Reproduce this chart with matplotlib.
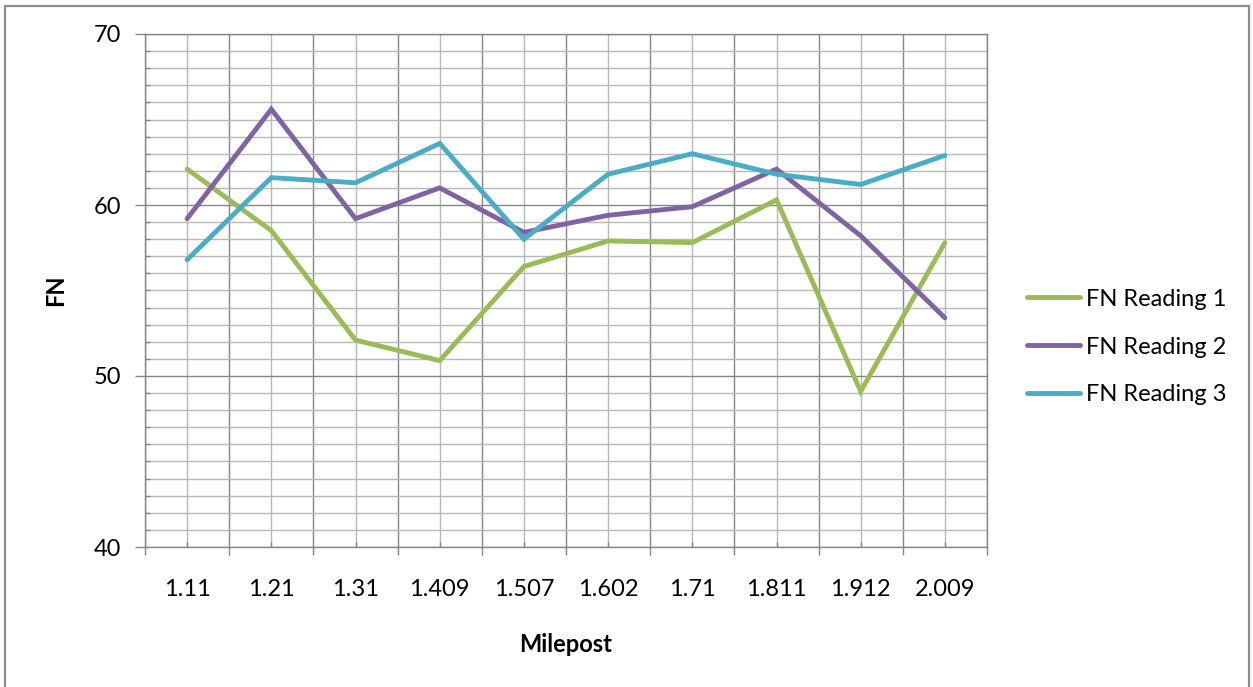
import numpy as np
import matplotlib
matplotlib.use("Agg")
import matplotlib.pyplot as plt
from matplotlib.patches import Rectangle
from matplotlib.ticker import FixedLocator, MultipleLocator

plt.rcParams["font.family"] = ["Lato", "DejaVu Sans"]

mileposts = ["1.11", "1.21", "1.31", "1.409", "1.507", "1.602", "1.71", "1.811", "1.912", "2.009"]
fn_reading_1 = [62.1, 58.5, 52.1, 50.9, 56.4, 57.9, 57.8, 60.3, 49.1, 57.8]
fn_reading_2 = [59.2, 65.6, 59.2, 61.0, 58.4, 59.4, 59.9, 62.1, 58.2, 53.4]
fn_reading_3 = [56.8, 61.6, 61.3, 63.6, 58.0, 61.8, 63.0, 61.8, 61.2, 62.9]

series = [
    ("FN Reading 1", fn_reading_1, "#9bbb59"),
    ("FN Reading 2", fn_reading_2, "#8064a2"),
    ("FN Reading 3", fn_reading_3, "#4bacc6"),
]

W, H = 1253, 687
FS = 17
fig = plt.figure(figsize=(W / 100, H / 100), dpi=100)
ax = fig.add_axes([145 / W, 1 - 547 / H, (987 - 145) / W, (547 - 34) / H])

x = np.arange(len(mileposts))
for name, vals, color in series:
    ax.plot(x, vals, color=color, lw=3.5, label=name, solid_joinstyle="miter",
            solid_capstyle="round", zorder=3)

ax.set_xlim(-0.5, len(mileposts) - 0.5)
ax.set_ylim(40, 70)

# category boundaries carry the dark gridlines, centres carry the labels
ax.xaxis.set_major_locator(FixedLocator(np.arange(-0.5, len(mileposts), 1)))
ax.xaxis.set_minor_locator(FixedLocator(x))
ax.set_xticklabels([], minor=False)
ax.set_xticklabels(mileposts, minor=True)
ax.yaxis.set_major_locator(MultipleLocator(10))
ax.yaxis.set_minor_locator(MultipleLocator(1))

grid_major = "#868686"
grid_minor = "#b8b8b8"
ax.set_axisbelow(True)
ax.grid(which="major", color=grid_major, lw=1.0)
ax.grid(which="minor", color=grid_minor, lw=1.0)

ax.tick_params(axis="x", which="major", direction="out", length=6, width=1.0, color=grid_major)
ax.tick_params(axis="x", which="minor", direction="in", length=3.5, width=1.0, color=grid_major,
               labelsize=FS, pad=23)
ax.tick_params(axis="y", which="major", direction="out", length=7, width=1.0, color=grid_major,
               labelsize=FS, pad=10)
ax.tick_params(axis="y", which="minor", direction="in", length=3.5, width=1.0, color=grid_major)

for sp in ax.spines.values():
    sp.set_color(grid_major)
    sp.set_linewidth(1.0)

ax.set_xlabel("Milepost", fontsize=FS, fontweight="bold", labelpad=23.5)
ax.set_ylabel("FN", fontsize=FS, fontweight="bold", labelpad=19)

ax.legend(loc="center left", bbox_to_anchor=(1027 / W, 1 - 347 / H),
          bbox_transform=fig.transFigure, frameon=False, fontsize=FS,
          handlelength=2.25, handletextpad=0.25, labelspacing=1.14,
          borderpad=0, borderaxespad=0)

# outer chart border
fig.patches.append(Rectangle((5 / W, -0.05), (1249 - 5) / W, 1.05 - 6 / H,
                             transform=fig.transFigure, fill=False,
                             edgecolor="#8c8c8c", lw=1.6))

fig.savefig("out.png", dpi=100)
